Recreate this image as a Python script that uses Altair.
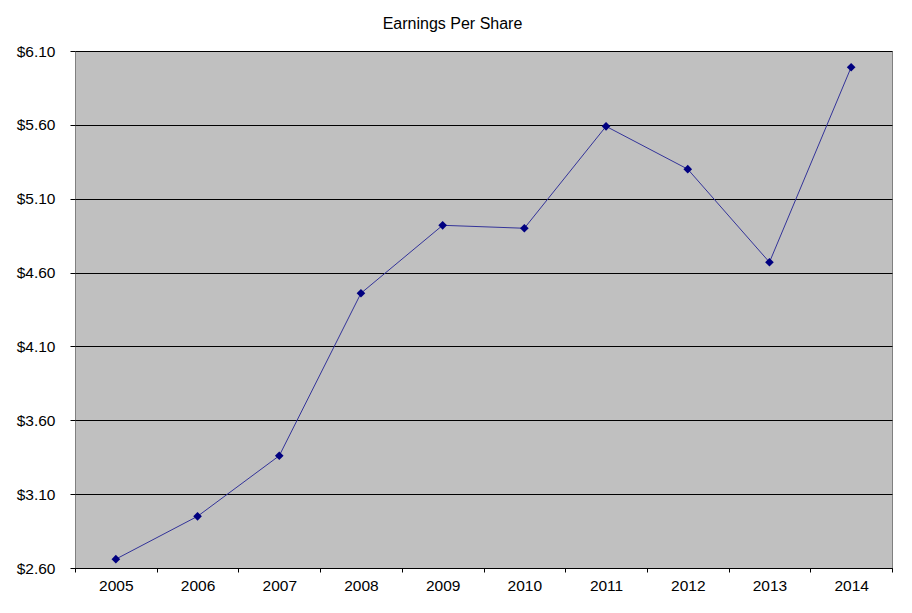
import altair as alt
import pandas as pd

years = ["2005", "2006", "2007", "2008", "2009", "2010", "2011", "2012", "2013", "2014"]
eps = [2.66, 2.95, 3.36, 4.46, 4.92, 4.90, 5.59, 5.30, 4.67, 5.99]
y_ticks = [2.60, 3.10, 3.60, 4.10, 4.60, 5.10, 5.60, 6.10]

df = pd.DataFrame({"year": years, "eps": eps})

FONT = "Liberation Sans"

x_enc = alt.X(
    "year:O",
    title=None,
    sort=years,
    bandPosition=0.5,
    scale=alt.Scale(type="band", paddingInner=0, paddingOuter=0),
    axis=alt.Axis(
        labelAngle=0,
        labelFontSize=15.5,
        labelFont=FONT,
        labelColor="black",
        labelPadding=6,
        tickBand="extent",
        tickSize=4,
        tickColor="black",
        domainColor="black",
        grid=False,
    ),
)
y_enc = alt.Y(
    "eps:Q",
    title=None,
    scale=alt.Scale(domain=[2.60, 6.10], nice=False, zero=False),
    axis=alt.Axis(
        values=y_ticks,
        format="$.2f",
        labelFontSize=15.5,
        labelFont=FONT,
        labelColor="black",
        labelPadding=15,
        tickSize=5,
        tickColor="black",
        domain=False,
        grid=True,
        gridColor="black",
        gridWidth=1,
        gridOpacity=1,
    ),
)

base = alt.Chart(df)
line = base.mark_line(color="#333399", strokeWidth=1).encode(x=x_enc, y=y_enc)
pts = base.mark_point(shape="diamond", filled=True, color="#000080", size=75, opacity=1).encode(x=x_enc, y=y_enc)

chart = (
    alt.layer(line, pts)
    .properties(
        width=817,
        height=517,
        background="white",
        title=alt.TitleParams(
            "Earnings Per Share",
            font=FONT,
            fontSize=16,
            fontWeight="normal",
            color="black",
            anchor="middle",
            dx=-31,
            offset=12,
        ),
        autosize=alt.AutoSizeParams(type="none"),
        padding={"left": 67, "top": 43, "right": 12, "bottom": 30},
    )
    .configure_view(fill="#C0C0C0", stroke="#808080", strokeWidth=1)
)

chart.save("out.html", embed_options={"renderer": "svg", "actions": False})
